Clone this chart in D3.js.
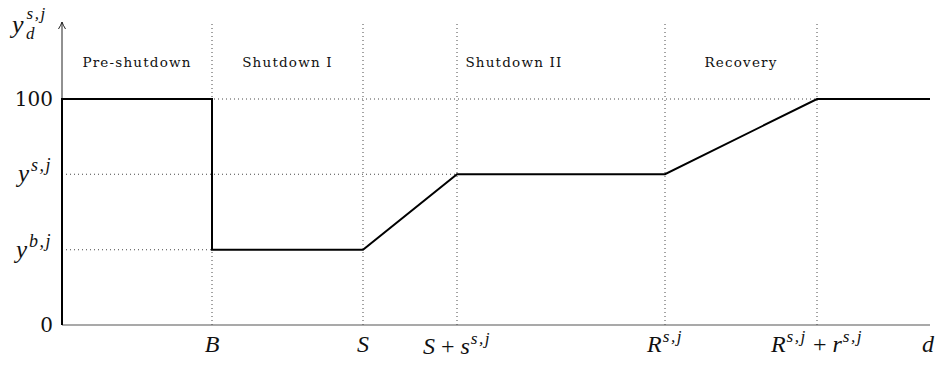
<!DOCTYPE html>
<html><head><meta charset="utf-8">
<script src="https://cdn.jsdelivr.net/npm/d3@7"></script>
<style>
html,body{margin:0;padding:0;background:#fff;}
svg{display:block;}
text{font-family:"DejaVu Serif","Liberation Serif",serif;fill:#111;}
.mt{font-family:"Liberation Serif","DejaVu Serif",serif;}
</style></head>
<body><svg id="c" width="942" height="365"></svg>
<script>
// Breakpoints along d (arbitrary day units)
const breakNames = ["B", "S", "S+s", "R", "R+r"];
const breakValues = [150, 301, 395, 603, 755];
const dMax = 868;
// Levels (percent)
const levelNames = ["y_b", "y_s", "100"];
const levelValues = [33.3, 66.7, 100];
// Path of y_d^{s,j}
const pathD = [0, 0, 150, 150, 301, 395, 603, 755, 868];
const pathY = [0, 100, 100, 33.3, 33.3, 66.7, 66.7, 100, 100];
// Phase labels
const phaseLabels = ["Pre-shutdown", "Shutdown I", "Shutdown II", "Recovery"];
const phaseStart = [0, 150, 301, 603];
const phaseEnd = [150, 301, 603, 755];

const svg = d3.select("#c");
const x = d3.scaleLinear().domain([0, dMax]).range([62, 930]);
const y = d3.scaleLinear().domain([0, 100]).range([325, 99]);
const yTop = 24;

const dot = g => g.attr("stroke", "#333").attr("stroke-width", 0.9).attr("stroke-dasharray", "1,3").attr("fill", "none");
breakValues.forEach(v => {
  svg.append("line").attr("x1", x(v)).attr("x2", x(v)).attr("y1", y(0)).attr("y2", yTop).call(dot);
});
svg.append("line").attr("x1", x(0)).attr("x2", x(breakValues[4])).attr("y1", y(100)).attr("y2", y(100)).call(dot);
svg.append("line").attr("x1", x(0)).attr("x2", x(breakValues[2])).attr("y1", y(levelValues[1])).attr("y2", y(levelValues[1])).call(dot);
svg.append("line").attr("x1", x(0)).attr("x2", x(breakValues[0])).attr("y1", y(levelValues[0])).attr("y2", y(levelValues[0])).call(dot);

// axes
svg.append("line").attr("x1", x(0)).attr("x2", x(dMax)).attr("y1", y(0)).attr("y2", y(0)).attr("stroke", "#555").attr("stroke-width", 1.2);
svg.append("line").attr("x1", x(0)).attr("x2", x(0)).attr("y1", y(0)).attr("y2", yTop-2).attr("stroke", "#222").attr("stroke-width", 1);
svg.append("path").attr("d", `M${x(0)-3.5},${yTop+5} Q${x(0)-1},${yTop+1} ${x(0)},${yTop-2} Q${x(0)+1},${yTop+1} ${x(0)+3.5},${yTop+5}`)
  .attr("fill", "none").attr("stroke", "#222").attr("stroke-width", 1);

// series
const line = d3.line().x((d, i) => x(pathD[i])).y((d, i) => y(pathY[i]));
svg.append("path").datum(pathD).attr("d", line).attr("fill", "none").attr("stroke", "#000").attr("stroke-width", 2).attr("stroke-linejoin", "miter");

// phase labels
phaseLabels.forEach((t, i) => {
  svg.append("text").attr("x", x((phaseStart[i] + phaseEnd[i]) / 2)).attr("y", 67)
    .attr("text-anchor", "middle").attr("font-size", 13.5).attr("letter-spacing", 1.2).attr("fill", "#222").text(t);
});

function mathLabel(xp, yp, anchor, parts, size) {
  const t = svg.append("text").attr("class", "mt").attr("x", xp).attr("y", yp).attr("text-anchor", anchor).attr("font-size", size);
  parts.forEach(p => {
    const s = t.append("tspan").text(p.t);
    if (p.i) s.attr("font-style", "italic");
    if (p.sup) s.attr("font-size", size * 0.72).attr("letter-spacing", 1.5);
    if (p.dy) s.attr("dy", p.dy);
    if (p.dx) s.attr("dx", p.dx);
  });
  return t;
}
svg.append("text").attr("x", 53).attr("y", y(100) + 7).attr("text-anchor", "end").attr("font-size", 20).text("100");
svg.append("text").attr("x", 53).attr("y", y(0) + 7).attr("text-anchor", "end").attr("font-size", 20).text("0");
mathLabel(52, y(levelValues[1]) + 8, "end", [{t: "y", i: 1}, {t: "s,j", i: 1, sup: 1, dy: -11, dx: 2}], 25);
mathLabel(52, y(levelValues[0]) + 8, "end", [{t: "y", i: 1}, {t: "b,j", i: 1, sup: 1, dy: -11, dx: 2}], 25);
// y axis title
const yt = svg.append("text").attr("class", "mt").attr("x", 12).attr("y", 33).attr("font-size", 26);
yt.append("tspan").attr("font-style", "italic").text("y");
yt.append("tspan").attr("font-style", "italic").attr("font-size", 17).attr("letter-spacing", 1.5).attr("dy", -14).attr("dx", 3).text("s,j");
yt.append("tspan").attr("font-style", "italic").attr("font-size", 17).attr("x", 26).attr("dy", 20).text("d");

// x labels
const xl = 352;
mathLabel(x(breakValues[0]), xl, "middle", [{t: "B", i: 1}], 24);
mathLabel(x(breakValues[1]), xl, "middle", [{t: "S", i: 1}], 24);
mathLabel(x(breakValues[2]), xl + 2, "middle", [{t: "S", i: 1}, {t: "+", dx: 6}, {t: "s", i: 1, dx: 6}, {t: "s,j", i: 1, sup: 1, dy: -10, dx: 1}], 24);
mathLabel(x(breakValues[3]), xl, "middle", [{t: "R", i: 1}, {t: "s,j", i: 1, sup: 1, dy: -10, dx: 1}], 24);
mathLabel(x(breakValues[4]), xl, "middle", [{t: "R", i: 1}, {t: "s,j", i: 1, sup: 1, dy: -10, dx: 1}, {t: "+", dy: 10, dx: 6}, {t: "r", i: 1, dx: 6}, {t: "s,j", i: 1, sup: 1, dy: -10, dx: 1}], 24);
mathLabel(928, xl, "middle", [{t: "d", i: 1}], 24);
</script></body></html>
